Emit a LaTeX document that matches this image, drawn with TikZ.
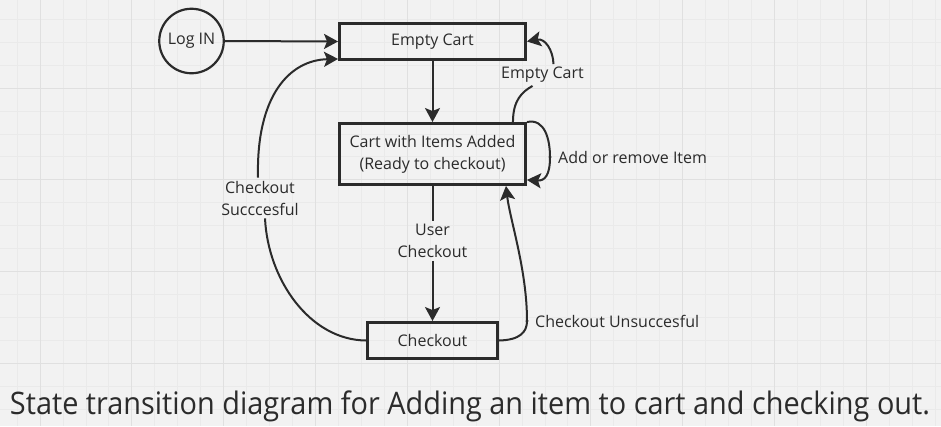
\documentclass[tikz,border=0pt]{standalone}
\usepackage{fontspec}
\setmainfont{Open Sans}
\usepackage{graphicx}
\usetikzlibrary{calc}
\usetikzlibrary{arrows.meta}
\definecolor{ink}{HTML}{2B2B2B}
\definecolor{paper}{HTML}{F2F2F2}
\definecolor{gridminor}{HTML}{EAEAEA}
\definecolor{gridmajor}{HTML}{E0E0E0}

\begin{document}
\begin{tikzpicture}[x=1pt, y=-1pt, >={Stealth[length=14pt,width=15pt,inset=3pt]},
	font=\fontsize{16}{22}\selectfont, text=ink,
	state/.style={rectangle, draw=ink, line width=2.6pt, inner sep=0pt, align=center},
	flow/.style={draw=ink, line width=2pt},
	tag/.style={inner sep=3pt, align=center}]
			%background
			\useasboundingbox (0,0) rectangle (941,426);
			\fill [paper] (0,0) rectangle (941,426);
			\begin{scope}
			\clip (0,0) rectangle (941,426);
			\foreach \i in {0,...,40} \draw [gridminor, line width=0.8pt] ({17.05+22.95*\i},0) -- ({17.05+22.95*\i},426);
			\foreach \j in {0,...,18} \draw [gridminor, line width=0.8pt] (0,{19.15+22.95*\j}) -- (941,{19.15+22.95*\j});
			\foreach \i in {0,...,9} \draw [gridmajor, line width=1pt] ({40+91.8*\i},0) -- ({40+91.8*\i},426);
			\foreach \j in {0,...,4} \draw [gridmajor, line width=1pt] (0,{-3.8+91.8*\j}) -- (941,{-3.8+91.8*\j});
			\end{scope}

			%states
			\node at (191.5,41) (login) [circle, draw=ink, line width=2.2pt, minimum size=64.5pt, inner sep=0pt] {Log IN};
			\node at (432.5,41.5) (empty) [state, minimum width=186.3pt, minimum height=36.3pt] {Empty Cart};
			\node at (432.5,154) (cart) [state, minimum width=186.3pt, minimum height=61.3pt] {Cart with Items Added\\(Ready to checkout)};
			\node at (432.5,340.5) (checkout) [state, minimum width=130.3pt, minimum height=36.3pt] {Checkout};

			%labels
			\node at (542.5,75) (elbl) [tag] {Empty Cart};
			\coordinate (addpt) at (550,157);
			\node at ($(addpt)+(5,0)$) (addlbl) [tag, anchor=west] {Add or remove Item};
			\node at (432.5,241) (usrlbl) [tag] {User\\Checkout};
			\node at (260,198) (oklbl) [tag] {Checkout\\Succcesful};
			\coordinate (failpt) at (527,321);
			\node at ($(failpt)+(5,0)$) (faillbl) [tag, anchor=west] {Checkout Unsuccesful};

			%transitions
			\draw [flow,->] (login.east) -- (empty.west);
			\draw [flow,->] (empty.south) -- (cart.north);
			\draw [flow] (cart.south) -- (usrlbl.north);
			\draw [flow,->] (usrlbl.south) -- (checkout.north);
			% success
			\draw [flow] (checkout.west) .. controls (310,340) and (268,280) .. ($(oklbl.south)+(5,0)$);
			\draw [flow,->] ($(oklbl.north)+(-2,0)$) .. controls (256,95) and (290,60) .. ($(empty.south west)+(0,-2)$);
			% not successful
			\draw [flow] (checkout.east) .. controls (520,340) and (527,332) .. (failpt);
			\draw [flow,->] (failpt) .. controls (527,270) and (510,220) .. ($(cart.south east)+(-21,0)$);
			\fill [ink] (failpt) circle (1.6);
			% add / remove loop
			\draw [flow] (cart.north east) .. controls (545,118) and (550,140) .. (addpt);
			\draw [flow,->] (addpt) .. controls (550,175) and (545,181) .. ($(cart.south east)+(0,-6)$);
			\fill [ink] (addpt) circle (1.6);
			% back to empty
			\draw [flow] ($(cart.north east)+(-14,0)$) .. controls (513,100) and (522,92) .. ($(elbl.south)+(-10,0)$);
			\draw [flow,->] ($(elbl.north)+(11,0)$) .. controls (553,50) and (545,38) .. (empty.east);

			%caption
			\node at (470,406) (caption) [font=\fontsize{31}{36}\selectfont] {\resizebox{920pt}{\height}{State transition diagram for Adding an item to cart and checking out.}};
\end{tikzpicture}
\end{document}
